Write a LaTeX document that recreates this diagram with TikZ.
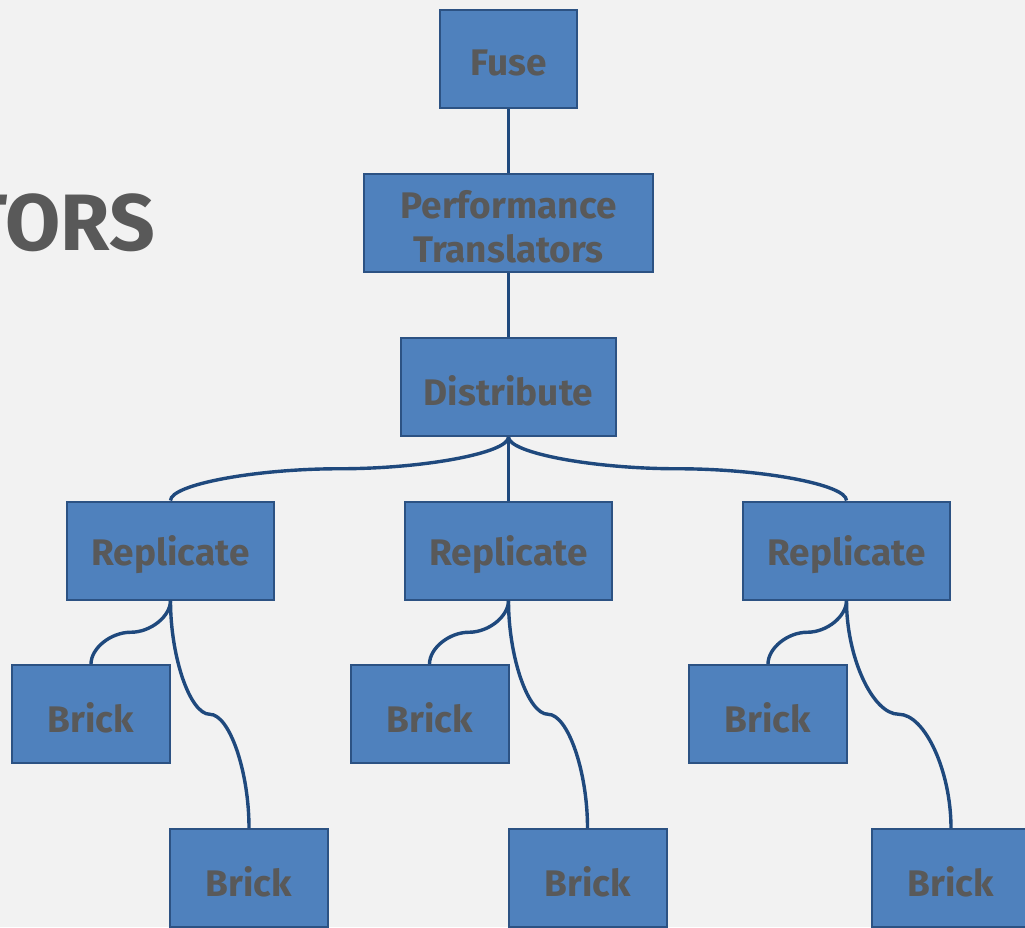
\documentclass[tikz,border=0pt]{standalone}
\usepackage{fontspec}
\setmainfont{Fira Sans}
\usetikzlibrary{calc}
\definecolor{bg}{HTML}{F2F2F2}
\definecolor{boxfill}{HTML}{4F81BD}
\definecolor{boxline}{HTML}{2C5283}
\definecolor{wirec}{HTML}{1F497D}
\definecolor{txt}{HTML}{595959}
\newcommand{\lowtxt}[1]{\raisebox{-4pt}[\height][\depth]{#1}}
\begin{document}
\begin{tikzpicture}[x=1pt,y=-1pt,
  box/.style={draw=boxline, line width=2pt, fill=boxfill, text=txt,
    font=\fontsize{37}{44}\selectfont\bfseries, align=center, inner sep=0pt,
    minimum height=98pt},
  wire/.style={draw=wirec, line width=3.4pt},
  curved/.style={to path={let \p1=(\tikztostart), \p2=(\tikztotarget) in
    .. controls (\x1,{\y1+(\y2-\y1)/4}) and ({\x1+(\x2-\x1)/4},{(\y1+\y2)/2})
    .. ({(\x1+\x2)/2},{(\y1+\y2)/2})
    .. controls ({\x1+3*(\x2-\x1)/4},{(\y1+\y2)/2}) and (\x2,{\y1+3*(\y2-\y1)/4})
    .. (\x2,\y2) \tikztonodes}}]
\fill[bg] (0,0) rectangle (1025,927);
\useasboundingbox (0,0) rectangle (1025,927);
\node[anchor=base east, text=txt, font=\fontsize{80}{96}\selectfont\bfseries, inner sep=0pt] (title) at (155,250) {TORS};
\node[box, minimum width=137pt] (fuse) at (508.5,59) {\lowtxt{Fuse}};
\node[box, minimum width=289pt] (perf) at (508.5,223) {\lowtxt{Performance}\\\lowtxt{Translators}};
\node[box, minimum width=215pt] (dist) at (508.5,387) {\lowtxt{Distribute}};
\node[box, minimum width=207pt] (rep1) at (170.5,550.5) {\lowtxt{Replicate}};
\node[box, minimum width=207pt] (rep2) at (508.5,550.5) {\lowtxt{Replicate}};
\node[box, minimum width=207pt] (rep3) at (846.5,550.5) {\lowtxt{Replicate}};
\node[box, minimum width=158pt] (b1a) at (91,714) {\lowtxt{Brick}};
\node[box, minimum width=158pt] (b2a) at (429.5,714) {\lowtxt{Brick}};
\node[box, minimum width=158pt] (b3a) at (768,714) {\lowtxt{Brick}};
\node[box, minimum width=158pt] (b1b) at (249,878) {\lowtxt{Brick}};
\node[box, minimum width=158pt] (b2b) at (587.5,878) {\lowtxt{Brick}};
\node[box, minimum width=158pt] (b3b) at (951,878) {\lowtxt{Brick}};
\draw[wire] (fuse.south) -- (perf.north);
\draw[wire] (perf.south) -- (dist.north);
\draw[wire] (dist.south) -- (rep2.north);
\draw[wire] (dist.south) to[curved] (rep1.north);
\draw[wire] (dist.south) to[curved] (rep3.north);
\draw[wire] (rep1.south) to[curved] (b1a.north);
\draw[wire] (rep1.south) to[curved] (b1b.north);
\draw[wire] (rep2.south) to[curved] (b2a.north);
\draw[wire] (rep2.south) to[curved] (b2b.north);
\draw[wire] (rep3.south) to[curved] (b3a.north);
\draw[wire] (rep3.south) to[curved] (b3b.north);
\end{tikzpicture}
\end{document}
